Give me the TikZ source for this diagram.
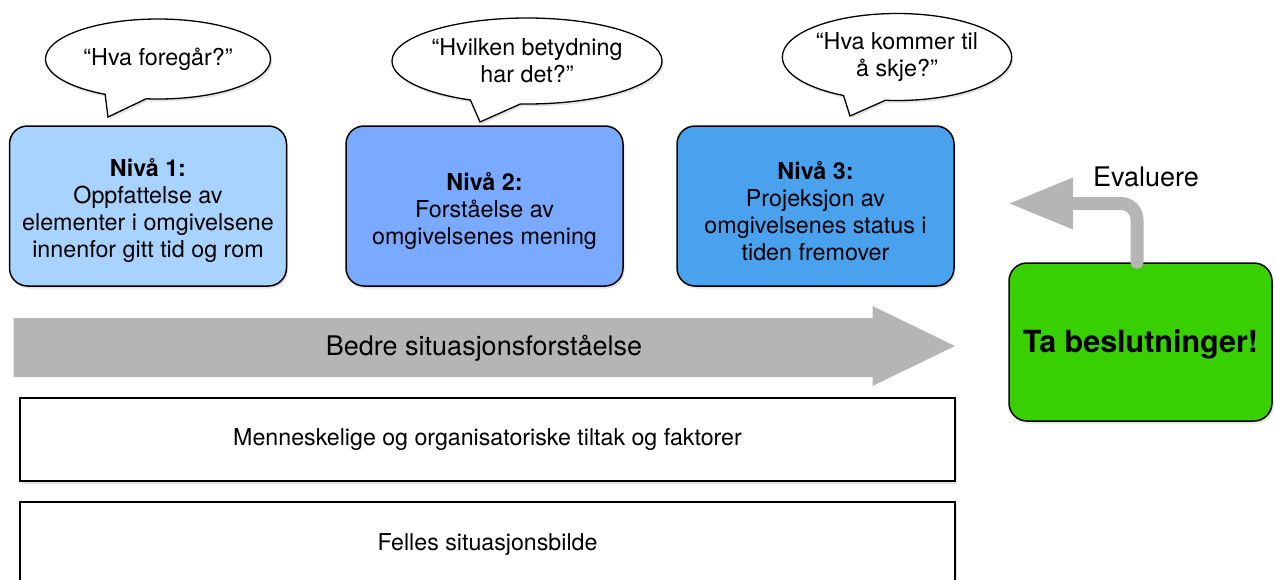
\documentclass[tikz,border=0pt]{standalone}
\usepackage{fontspec}
\setmainfont{TeX Gyre Heros}
\usepackage{tikz}
\usepackage{xcolor}
\usetikzlibrary{shapes.geometric, shapes.callouts, arrows.meta, shadows}

\definecolor{levelone}{RGB}{169,211,255}
\definecolor{leveltwo}{RGB}{121,170,255}
\definecolor{levelthree}{RGB}{74,162,238}
\definecolor{decisiongreen}{RGB}{56,208,0}
\definecolor{flowgrey}{RGB}{181,181,181}
\newcommand{\levelstrut}{\rule{0pt}{27.5pt}}

\begin{document}
\begin{tikzpicture}[x=1pt, y=-1pt,
  softshadow/.style={drop shadow={opacity=0.22, shadow xshift=1.5pt, shadow yshift=-2.5pt}},
  level/.style={rectangle, rounded corners=18pt, draw=black, line width=1.5pt, minimum width=277pt, minimum height=160pt, inner sep=0pt, align=center, font=\fontsize{23.3}{27}\selectfont, softshadow},
  bubble/.style={ellipse callout, draw=black, fill=white, line width=1.3pt, minimum width=225pt, inner sep=0pt, callout pointer arc=22, align=center, font=\fontsize{23.3}{27}\selectfont, softshadow},
  factor/.style={rectangle, draw=black, fill=white, line width=1.5pt, minimum width=935pt, inner sep=0pt, font=\fontsize{23.2}{27}\selectfont, softshadow}]
\useasboundingbox (0,0) rectangle (1274,579);

% Three levels of situation awareness
\node[level, fill=levelone] (lvlone) at (148,206) {\levelstrut\textbf{Nivå 1:}\\Oppfattelse av\\elementer i omgivelsene\\innenfor gitt tid og rom};
\node[level, fill=leveltwo] (lvltwo) at (484.5,206) {\levelstrut\textbf{Nivå 2:}\\Forståelse av\\omgivelsenes mening};
\node[level, fill=levelthree] (lvlthree) at (815.5,206) {\levelstrut\textbf{Nivå 3:}\\Projeksjon av\\omgivelsenes status i\\tiden fremover};

% Questions asked at each level
\node[bubble, minimum height=80pt, callout absolute pointer={(108,117)}] (askone) at (158,59) {“Hva foregår?”};
\node[bubble, minimum height=86pt, callout absolute pointer={(480,122)}] (asktwo) at (527,61) {“Hvilken betydning\\har det?”};
\node[bubble, minimum height=87pt, callout absolute pointer={(850,116)}] (askthree) at (897,57) {“Hva kommer til\\å skje?”};

% Big arrow towards better awareness
\fill[flowgrey] (13.5,318) -- (872.5,318) -- (872.5,306) -- (955,346) -- (872.5,386) -- (872.5,377) -- (13.5,377) -- cycle;
\node[font=\fontsize{27}{30}\selectfont] (better) at (484,348) {Bedre situasjonsforståelse};

% Foundations
\node[factor, minimum height=83pt] (human) at (487.5,439.5) {Menneskelige og organisatoriske tiltak og faktorer};
\node[factor, minimum height=86pt] (picture) at (487.5,545) {Felles situasjonsbilde};

% Decision and feedback
\node[level, fill=decisiongreen, minimum width=263pt, minimum height=158pt, font=\fontsize{30.5}{34}\bfseries] (decide) at (1140.5,342) {\rule{0pt}{28pt}Ta beslutninger!};
\coordinate (evaltip) at (1008,203.5);
\draw[flowgrey, line width=13pt, line cap=round, rounded corners=16pt, -{Triangle[length=65pt, width=48pt]}] ([xshift=-3.5pt]decide.north) -- ([xshift=-3.5pt]decide.north |- evaltip) -- (evaltip);
\node[font=\fontsize{27}{30}\selectfont] (evaluate) at (1146,177) {Evaluere};
\end{tikzpicture}
\end{document}
